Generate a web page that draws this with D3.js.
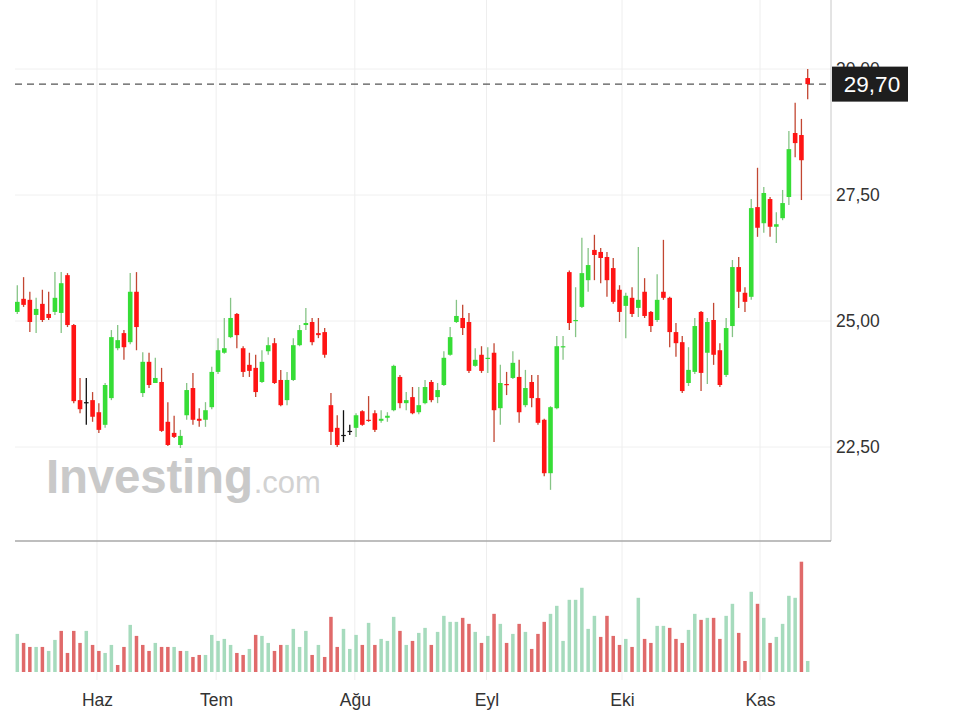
<!DOCTYPE html>
<html><head><meta charset="utf-8">
<script src="https://cdn.jsdelivr.net/npm/d3@7"></script>
<style>body{margin:0;background:#fff}svg{display:block}text{font-family:"Liberation Sans",Arial,sans-serif}</style>
</head><body>
<svg id="c" width="960" height="721"></svg>
<script>
// ---- data ----
const opens  = [25.18,25.44,25.42,25.12,25.34,25.14,25.18,25.16,25.91,24.92,23.43,23.39,23.43,23.19,22.94,23.47,24.46,24.76,24.58,25.58,23.57,24.19,23.77,23.79,23.00,22.78,22.54,23.13,23.67,23.06,23.04,23.29,23.99,24.37,24.68,25.14,24.46,24.13,24.07,23.79,24.40,24.56,23.83,23.43,23.83,24.52,24.92,24.98,24.76,24.78,23.33,22.88,22.74,22.82,22.88,23.21,23.04,23.17,23.02,23.08,23.23,23.89,23.37,23.49,23.19,23.37,23.79,23.49,23.73,24.33,24.98,25.06,24.98,24.11,24.33,24.25,24.37,23.27,23.75,23.87,23.89,23.33,23.79,23.47,23.04,21.98,23.27,24.48,25.97,25.00,25.28,25.81,26.41,26.37,26.27,26.05,25.62,25.30,25.46,25.26,25.58,25.18,25.02,25.58,25.46,24.78,24.58,23.77,23.99,25.18,24.37,25.02,24.42,23.93,24.90,26.07,25.56,25.48,27.26,26.94,27.42,26.87,27.04,27.46,28.73,28.69,29.82];
const highs  = [25.71,25.87,25.58,25.46,25.62,25.58,25.97,25.97,25.95,24.94,23.87,23.87,23.59,23.37,23.77,24.82,24.92,24.82,25.95,25.97,24.38,24.37,24.27,24.07,23.39,23.12,22.84,23.77,23.97,23.27,23.39,24.09,24.66,25.06,25.46,25.16,24.50,24.37,24.33,24.42,24.68,24.66,24.03,23.99,24.66,24.92,25.26,25.06,25.06,24.86,23.57,23.13,23.23,22.94,23.17,23.23,23.51,23.23,23.23,23.19,24.13,23.93,23.59,23.69,23.69,23.83,23.83,23.77,24.40,24.88,25.42,25.32,25.16,24.46,24.50,24.48,24.56,24.13,23.99,24.40,24.23,24.03,23.93,23.93,23.06,23.31,24.70,24.70,26.00,25.67,26.65,26.45,26.71,26.45,26.37,26.25,25.71,25.56,25.67,26.47,25.85,25.20,25.93,26.61,25.48,24.96,24.70,24.48,25.06,25.20,25.06,25.36,24.56,25.06,26.21,26.27,25.67,27.42,28.04,27.66,27.46,27.16,27.60,28.77,29.33,29.01,30.00];
const lows   = [25.14,25.28,24.78,24.76,24.98,25.02,25.12,24.76,24.88,23.37,23.17,22.94,23.00,22.78,22.88,23.43,24.42,24.23,24.54,24.42,23.49,23.67,23.77,22.80,22.52,22.68,22.48,23.04,22.94,22.90,22.90,23.25,23.95,24.35,24.66,24.46,23.89,23.89,23.49,23.77,24.33,23.75,23.31,23.33,23.81,24.50,24.82,24.52,24.66,24.27,22.54,22.50,22.60,22.74,22.70,22.92,23.00,22.80,22.98,23.00,23.21,23.27,23.23,23.15,23.15,23.35,23.39,23.37,23.71,24.31,24.96,24.72,23.97,24.09,23.97,23.97,22.60,22.94,23.53,23.85,22.98,23.29,23.29,22.94,21.92,21.65,23.25,24.23,24.82,24.68,25.26,25.58,25.81,25.75,25.48,25.34,24.98,24.66,25.08,25.08,25.06,24.78,24.98,25.42,24.48,24.29,23.57,23.71,23.95,23.61,23.75,24.13,23.69,23.89,24.68,25.26,25.18,25.42,26.67,26.75,26.67,26.55,27.00,27.30,28.25,27.40,29.40];
const closes = [25.38,25.32,24.98,25.24,25.02,25.06,25.46,25.75,24.92,23.41,23.25,23.39,23.10,22.84,23.73,24.68,24.62,24.48,25.58,24.88,24.19,23.73,23.87,22.82,22.54,22.70,22.72,23.63,23.04,23.02,23.23,23.99,24.42,24.46,25.06,24.72,23.99,24.01,23.59,24.19,24.52,23.77,23.33,23.83,24.52,24.82,24.96,24.58,24.72,24.33,22.80,22.54,22.74,22.82,23.13,22.94,23.02,22.84,23.06,23.12,24.11,23.37,23.43,23.17,23.33,23.69,23.43,23.63,24.27,24.68,25.10,24.86,24.01,24.23,24.01,24.27,23.23,23.77,23.73,24.17,23.19,23.67,23.47,22.98,21.98,23.29,24.50,24.50,24.96,25.02,25.95,26.11,26.31,26.25,25.81,25.38,25.18,25.50,25.14,25.42,25.10,24.90,25.42,25.46,24.78,24.56,23.61,24.03,24.90,23.97,24.98,24.33,23.73,24.86,26.07,25.58,25.38,27.24,26.85,27.54,26.87,26.92,27.34,28.41,28.53,28.19,29.70];
const volumes = [38,29,25,25,25,21,32,41,19,41,29,41,27,21,19,27,7,25,47,36,27,21,29,25,25,25,21,21,15,17,17,37,31,33,27,19,17,23,37,36,29,21,27,27,43,25,41,17,27,15,55,25,43,23,37,27,49,27,33,31,55,41,27,31,39,44,27,40,56,50,50,54,48,40,29,36,58,48,29,38,48,40,23,38,50,58,66,31,72,72,84,43,56,35,56,36,27,33,25,74,33,29,46,46,44,33,29,42,58,52,54,54,33,56,68,39,11,80,68,54,29,35,48,76,74,110,11];
const volumeDir = ("grrgrggrrr" + "rgrrggrrgr" + "rrgrrgrgrr" + "gggggrrgrg" + "grrggggrgr" +
                   "rrgggrgrgg" + "grgrggrggg" + "grrgrgrgrg" + "rgrrrggggg" + "gggrrrrgrg" +
                   "rrggrrrggr" + "grrggrrgrg" + "rggggrg").split("");
const priceTicks = [22.5, 25, 27.5, 30];
const lastPrice = 29.70;
const monthLabels = ["Haz","Tem","Ağu","Eyl","Eki","Kas"];
const monthPos = [12.7, 31.7, 53.8, 74.8, 96.4, 118.4];

// ---- chart ----
const svg = d3.select("#c");
const left = 15, right = 831, priceBottom = 541, volBottom = 672;
const x = d3.scaleLinear().domain([0, opens.length - 1]).range([17.3, 807.7]);
const y = d3.scaleLinear().domain([22.5, 30]).range([447, 69]);
const yv = d3.scaleLinear().domain([0, 110]).range([volBottom, 561.7]);
const loc = d3.formatLocale({decimal: ",", thousands: ".", grouping: [3], currency: ["", ""]});
const fmt = loc.format(".2f");

// grid
svg.append("g").selectAll("line").data(priceTicks).join("line")
  .attr("x1", left).attr("x2", right).attr("y1", d => y(d)).attr("y2", d => y(d))
  .attr("stroke", "#f0f0f0").attr("stroke-width", 1);
svg.append("g").selectAll("line").data(monthPos).join("line")
  .attr("x1", d => x(d)).attr("x2", d => x(d)).attr("y1", 0).attr("y2", 680)
  .attr("stroke", "#eeeeee").attr("stroke-width", 1);

// watermark
const wm = svg.append("text").attr("x", 46).attr("y", 493).attr("fill", "#c9c9c9");
wm.append("tspan").text("Investing").attr("font-size", 47.5).attr("font-weight", "bold").attr("letter-spacing", -0.2);
wm.append("tspan").text(".com").attr("font-size", 31).attr("fill", "#d2d2d2").attr("dx", 1);

// panel borders
svg.append("line").attr("x1", right).attr("x2", right).attr("y1", 0).attr("y2", priceBottom).attr("stroke", "#c8c8c8");
svg.append("line").attr("x1", left).attr("x2", right).attr("y1", priceBottom).attr("y2", priceBottom).attr("stroke", "#a8a8a8").attr("stroke-width", 1.5);

// volume bars
svg.append("g").selectAll("rect").data(volumes).join("rect")
  .attr("x", (d, i) => x(i) - 1.75).attr("width", 3.5)
  .attr("y", d => yv(d)).attr("height", d => yv(0) - yv(d))
  .attr("fill", (d, i) => volumeDir[i] === "g" ? "#a6dbbd" : "#e06a6a");

// candles
const idx = d3.range(opens.length);
const col = i => closes[i] > opens[i] ? "up" : closes[i] < opens[i] ? "down" : "flat";
const wickColor = {up: "#86c486", down: "#c24632", flat: "#111"};
const bodyColor = {up: "#36dd36", down: "#ff1414", flat: "#111"};
const drawCandles = (g, data) => {
  g.selectAll("line").data(data).join("line")
    .attr("x1", i => x(i)).attr("x2", i => x(i))
    .attr("y1", i => y(highs[i])).attr("y2", i => y(lows[i]))
    .attr("stroke", i => wickColor[col(i)]).attr("stroke-width", 1.3);
  g.selectAll("rect").data(data).join("rect")
    .attr("x", i => x(i) - 2.3).attr("width", 4.6)
    .attr("y", i => y(Math.max(opens[i], closes[i])))
    .attr("height", i => Math.max(1.2, Math.abs(y(opens[i]) - y(closes[i]))))
    .attr("fill", i => bodyColor[col(i)]);
};
drawCandles(svg.append("g"), idx.slice(0, -1));

// last price dashed line
svg.append("line").attr("x1", left).attr("x2", right).attr("y1", y(lastPrice)).attr("y2", y(lastPrice))
  .attr("stroke", "#555").attr("stroke-width", 1.3).attr("stroke-dasharray", "7,5");
// last candle above the dashed line
drawCandles(svg.append("g"), idx.slice(-1));

// right price axis
const ya = d3.axisRight(y).tickValues(priceTicks).tickFormat(fmt).tickSize(0).tickPadding(5);
const yg = svg.append("g").attr("transform", `translate(${right},0)`).call(ya);
yg.select(".domain").remove();
yg.selectAll("text").attr("font-size", 17.5).attr("fill", "#333").attr("font-family", "'Liberation Sans',Arial,sans-serif");

// last price label (covers the top tick label partially, as in the original)
svg.append("rect").attr("x", 832).attr("y", y(lastPrice) - 17.5).attr("width", 76).attr("height", 35).attr("fill", "#1e1e1e");
svg.append("text").attr("x", 872).attr("y", y(lastPrice)).attr("dy", "0.36em").attr("text-anchor", "middle")
  .attr("fill", "#fff").attr("font-size", 22.5).text(fmt(lastPrice));

// x axis (months)
const xa = d3.axisBottom(x).tickValues(monthPos).tickFormat((d, i) => monthLabels[i]).tickSize(0).tickPadding(22);
const xg = svg.append("g").attr("transform", `translate(0,${volBottom})`).call(xa);
xg.select(".domain").remove();
xg.selectAll("text").attr("font-size", 17.5).attr("fill", "#333").attr("font-family", "'Liberation Sans',Arial,sans-serif");
</script>
</body></html>
